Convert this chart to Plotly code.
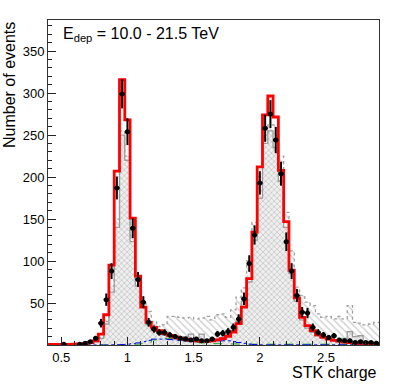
import numpy as np
import plotly.graph_objects as go

# Histogram binning: 63 bins of width 0.04, first bin centred at 0.40
BIN_WIDTH = 0.04
centers = np.round(0.40 + BIN_WIDTH * np.arange(63), 2)
edges = np.append(centers - BIN_WIDTH / 2, centers[-1] + BIN_WIDTH / 2)

# Flight data (counts per bin)
data_counts = [
    0, 0, 0, 1, 0, 0, 1, 2, 4, 8,
    26, 54, 88, 187, 299, 254, 139, 78, 51, 27,
    19, 15, 15, 12, 10, 8, 7, 6, 7, 5,
    5, 7, 13, 14, 16, 21, 31, 55, 97, 131,
    193, 258, 275, 244, 204, 123, 88, 59, 39, 38,
    21, 15, 12, 9, 11, 6, 5, 5, 3, 4,
    3, 3, 2,
]

# Total fit (red)
fit_total = [
    0.8, 0.8, 0.8, 0.8, 0.8, 1.0, 1.2, 1.6, 3.0, 5.0,
    13, 36, 95, 207, 316, 268, 151, 82, 45, 27,
    21, 17, 13.5, 11.5, 9.5, 8, 7, 5.6, 4.8, 4.4,
    4.4, 5, 6, 7.6, 10.4, 15.5, 25.5, 45, 79, 134.5,
    212, 274, 296.5, 271.5, 208, 147, 89, 56, 33, 23,
    17, 12, 9, 7, 5.5, 4.5, 3.5, 3, 2.5, 2,
    2, 1.5, 1.5,
]

# MC signal template (cross-hatched)
mc_signal = [
    0, 0, 0, 0, 0, 0, 0.5, 1, 2, 4,
    8, 25, 63, 140, 250, 220, 123, 70, 45, 24,
    17, 14, 12, 11, 10, 9, 10, 13, 7, 13,
    6, 6, 7, 9, 12, 17, 28, 52, 75, 125,
    175, 240, 255, 235, 195, 140, 85, 52, 30, 20,
    15, 11, 9, 7, 6, 4, 8, 16, 10, 11,
    4, 3, 2,
]

# MC template incl. background (dotted, diagonal hatch)
mc_total = [
    0, 0, 0, 0, 0, 0, 0.5, 1, 2, 4,
    9, 28, 70, 150, 255, 225, 130, 78, 50, 40,
    28, 22, 24, 34, 34, 33, 32, 33, 31, 32,
    34, 30, 36, 37, 33, 42, 57, 68, 100, 146,
    200, 250, 262, 262, 225, 158, 112, 69, 59, 51,
    47, 37, 33, 34, 31, 34, 31, 47, 27, 26,
    24, 25, 27,
]

# Small components near the baseline
comp_blue = [
    0, 0, 0, 0, 0, 0, 0, 0, 0, 0,
    0, 0, 0.2, 0.3, 0.5, 1.0, 1.5, 2.5, 4, 5.5,
    7, 7, 7, 6.5, 6, 5.5, 5, 4.5, 4, 4,
    4, 4.5, 5, 5, 5, 4, 3, 2, 1, 0.5,
    0.2, 0.2, 0.2, 0.2, 0.2, 0.2, 0.2, 0.2, 0.2, 0.2,
    0.2, 0.2, 0.2, 0.2, 0.2, 0.2, 0.2, 0.2, 0.2, 0.2,
    0.2, 0.2, 0.2,
]
comp_green = [
    0, 0, 0, 0, 0, 0, 0, 0, 0, 0,
    0, 0, 0, 0, 0, 0, 0.5, 1, 2, 3,
    6, 7, 8, 7.5, 7, 6, 5, 4, 3, 2.5,
    2, 1.8, 1.6, 1.5, 1.4, 1.3, 1.2, 1.1, 1, 1,
    1, 1, 1, 1, 1, 1, 1, 1, 1, 1,
    1, 1, 1, 1, 1, 1, 1, 1, 1, 1,
    1, 1, 1,
]

FONT = "Liberation Sans, Arial, Helvetica, sans-serif"


def step(values):
    return list(values) + [values[-1]]


fig = go.Figure()

fig.add_trace(
    go.Bar(
        x=centers,
        y=mc_total,
        width=BIN_WIDTH,
        marker={
            "color": "white",
            "line": {"width": 0},
            "pattern": {"shape": "\\", "fgcolor": "#a8a8a8", "bgcolor": "white",
                        "size": 5, "solidity": 0.3},
        },
    )
)
fig.add_trace(
    go.Bar(
        x=centers,
        y=mc_signal,
        width=BIN_WIDTH,
        marker={
            "color": "#eeeeee",
            "line": {"width": 0},
            "pattern": {"shape": "x", "fgcolor": "#9a9a9a", "bgcolor": "#efefef",
                        "size": 4, "solidity": 0.35},
        },
    )
)
fig.add_trace(
    go.Scatter(
        x=edges, y=step(mc_total), mode="lines", line_shape="hv",
        line={"color": "#a0a0a0", "width": 1.3, "dash": "dot"},
    )
)
fig.add_trace(
    go.Scatter(
        x=edges, y=step(mc_signal), mode="lines", line_shape="hv",
        line={"color": "#9c9c9c", "width": 1.3},
    )
)
fig.add_trace(
    go.Scatter(
        x=edges, y=step(comp_green), mode="lines", line_shape="hv",
        line={"color": "#22aa22", "width": 1, "dash": "dash"},
    )
)
fig.add_trace(
    go.Scatter(
        x=edges, y=step(comp_blue), mode="lines", line_shape="hv",
        line={"color": "#0000ee", "width": 1, "dash": "dashdot"},
    )
)
fig.add_trace(
    go.Scatter(
        x=edges, y=step(fit_total), mode="lines", line_shape="hv",
        line={"color": "#ff0000", "width": 2.8},
    )
)

pts_x = [c for c, n in zip(centers, data_counts) if n > 0]
pts_y = [n for n in data_counts if n > 0]
fig.add_trace(
    go.Scatter(
        x=pts_x,
        y=pts_y,
        mode="markers",
        marker={"color": "black", "size": 5},
        error_y={"type": "data", "array": list(np.sqrt(pts_y)), "thickness": 2,
                 "width": 0, "color": "black"},
        error_x={"type": "constant", "value": BIN_WIDTH / 2, "thickness": 2,
                 "width": 0, "color": "black"},
    )
)

axis_common = {
    "ticks": "inside",
    "ticklen": 8,
    "tickcolor": "#222222",
    "showline": True,
    "mirror": True,
    "linecolor": "#333333",
    "linewidth": 1,
    "showgrid": False,
    "zeroline": False,
    "tickfont": {"family": FONT, "size": 13, "color": "black"},
}

fig.update_layout(
    width=399,
    height=387,
    margin={"l": 48, "r": 20, "t": 20, "b": 42},
    plot_bgcolor="white",
    paper_bgcolor="white",
    showlegend=False,
    barmode="overlay",
    bargap=0,
    font={"family": FONT, "color": "black"},
    xaxis={
        **axis_common,
        "range": [0.4, 2.9],
        "tickvals": [0.5, 1, 1.5, 2, 2.5],
        "ticktext": ["0.5", "1", "1.5", "2", "2.5"],
        "minor": {"ticks": "inside", "ticklen": 4, "dtick": 0.1, "tick0": 0,
                  "tickcolor": "#222222"},
    },
    yaxis={
        **axis_common,
        "range": [0, 387],
        "tickvals": [50, 100, 150, 200, 250, 300, 350],
        "minor": {"ticks": "inside", "ticklen": 4, "dtick": 10, "tick0": 0,
                  "tickcolor": "#222222"},
    },
    annotations=[
        {
            "text": "Number of events",
            "textangle": -90,
            "xref": "paper", "yref": "paper",
            "x": 0, "y": 1,
            "xanchor": "center", "yanchor": "top",
            "xshift": -39,
            "showarrow": False,
            "font": {"family": FONT, "size": 16, "color": "black"},
        },
        {
            "text": "STK charge",
            "xref": "paper", "yref": "paper",
            "x": 1, "y": 0,
            "xanchor": "right", "yanchor": "middle",
            "yshift": -27,
            "showarrow": False,
            "font": {"family": FONT, "size": 16, "color": "black"},
        },
        {
            "text": "E<sub>dep</sub> = 10.0 - 21.5 TeV",
            "xref": "paper", "yref": "paper",
            "x": 0.038, "y": 0.955,
            "xanchor": "left", "yanchor": "middle",
            "showarrow": False,
            "font": {"family": FONT, "size": 16, "color": "black"},
        },
    ],
)

# drop the browser's default 8px body margin so the figure fills the window
fig.write_html(
    "out.html",
    config={"displayModeBar": False},
    post_script="document.body.style.margin='0';",
)
